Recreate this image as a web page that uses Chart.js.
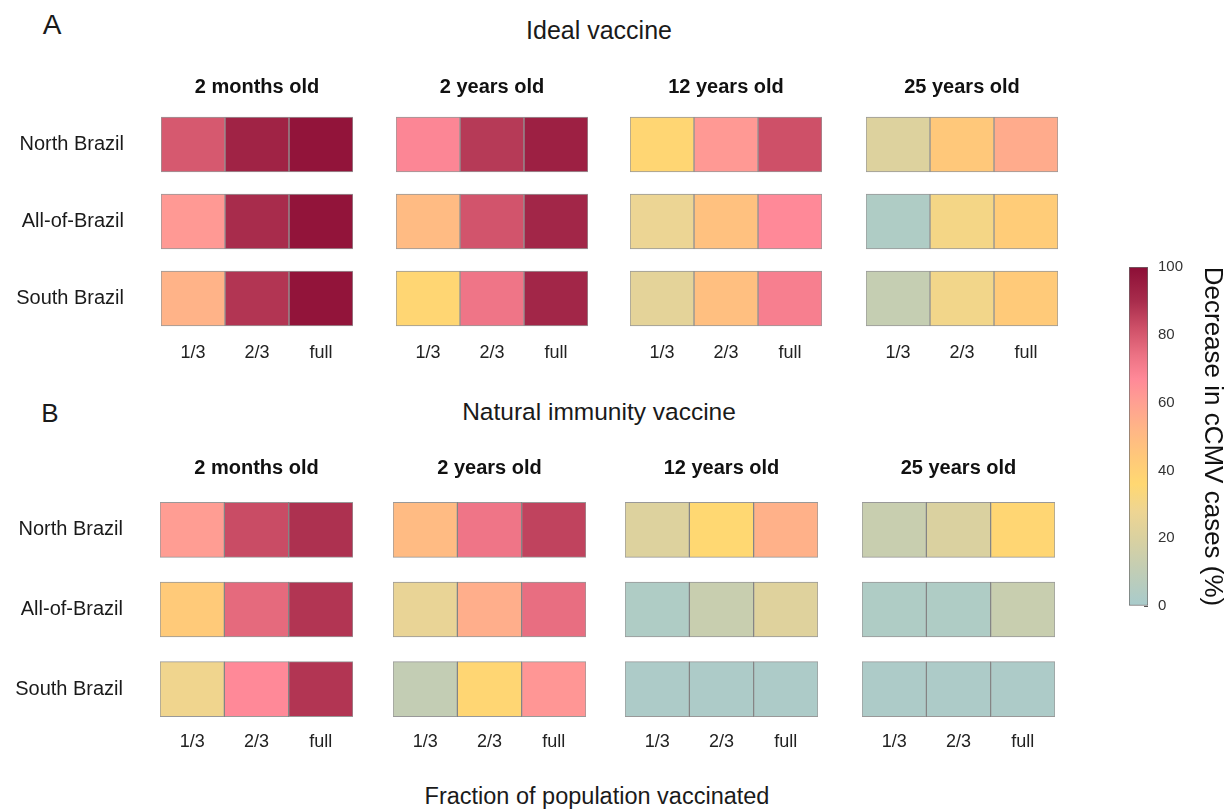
<!DOCTYPE html>
<html>
<head>
<meta charset="utf-8">
<title>cCMV vaccination scenarios</title>
<script src="https://cdn.jsdelivr.net/npm/chart.js@4.4.1/dist/chart.umd.min.js"></script>
<style>
  html, body { margin: 0; padding: 0; background: #ffffff; }
  body {
    position: relative; width: 1226px; height: 810px; overflow: hidden;
    font-family: 'Liberation Sans', Arial, Helvetica, sans-serif; color: #1a1a1a;
  }
  canvas { position: absolute; }
  .lbl { position: absolute; transform: translate(-50%, -50%); white-space: nowrap; line-height: 1; }
</style>
</head>
<body>
<div class="lbl" style="left:52px;top:25px;font-size:28px;">A</div>
<div class="lbl" style="left:599px;top:30px;font-size:25px;">Ideal vaccine</div>
<div class="lbl" style="left:50px;top:413px;font-size:26px;">B</div>
<div class="lbl" style="left:599px;top:412px;font-size:24.5px;">Natural immunity vaccine</div>
<div class="lbl" style="left:597px;top:797px;font-size:23.5px;">Fraction of population vaccinated</div>

<script>
// ---- Data -------------------------------------------------------------
const regions   = ['North Brazil', 'All-of-Brazil', 'South Brazil'];
const fractions = ['1/3', '2/3', 'full'];
const ageGroups = ['2 months old', '2 years old', '12 years old', '25 years old'];

// Decrease in cCMV cases (%), rows = regions, columns = fraction vaccinated
const idealTwoMonths        = [[80, 93, 98], [62, 90, 98], [53, 88, 98]];
const idealTwoYears         = [[68, 87, 94], [50, 81, 92], [37, 73, 92]];
const idealTwelveYears      = [[37, 62, 82], [27, 47, 67], [24, 48, 70]];
const idealTwentyFiveYears  = [[21, 44, 56], [3, 31, 42], [12, 30, 43]];

const naturalTwoMonths       = [[61, 83, 89], [43, 76, 88], [29, 67, 88]];
const naturalTwoYears        = [[50, 73, 85], [26, 55, 75], [11, 37, 63]];
const naturalTwelveYears     = [[21, 36, 54], [3, 13, 22], [2, 2, 2]];
const naturalTwentyFiveYears = [[13, 20, 37], [3, 3, 13], [2, 2, 2]];

const colorbarTicks = [0, 20, 40, 60, 80, 100];

// ---- Colour scale (value -> rgb) -------------------------------------
const colorStops = [
  [0,   [168, 203, 204]],
  [10,  [192, 205, 182]],
  [20,  [218, 209, 160]],
  [28,  [238, 213, 146]],
  [36,  [255, 216, 114]],
  [44,  [255, 200, 122]],
  [52,  [255, 182, 134]],
  [60,  [255, 160, 146]],
  [67,  [255, 137, 152]],
  [74,  [236, 114, 132]],
  [82,  [206,  80, 104]],
  [90,  [168,  44,  76]],
  [100, [140,  14,  54]]
];

function colorFor(v) {
  for (let i = 1; i < colorStops.length; i++) {
    const [v1, c1] = colorStops[i];
    const [v0, c0] = colorStops[i - 1];
    if (v <= v1) {
      const t = (v - v0) / (v1 - v0);
      const c = c0.map((a, k) => Math.round(a + (c1[k] - a) * t));
      return `rgb(${c[0]},${c[1]},${c[2]})`;
    }
  }
  const c = colorStops[colorStops.length - 1][1];
  return `rgb(${c[0]},${c[1]},${c[2]})`;
}

// ---- Layout -----------------------------------------------------------
Chart.defaults.font.family = "'Liberation Sans', Arial, Helvetica, sans-serif";
Chart.defaults.color = '#1a1a1a';

const panels = [
  { tables: [idealTwoMonths, idealTwoYears, idealTwelveYears, idealTwentyFiveYears],
    lefts: [161, 396, 630, 866], cellWidth: 192, top: 75, height: 292,
    titlePad: 7, tickPad: 5 },
  { tables: [naturalTwoMonths, naturalTwoYears, naturalTwelveYears, naturalTwentyFiveYears],
    lefts: [160, 393, 625, 862], cellWidth: 193, top: 456, height: 303,
    titlePad: 10, tickPad: 2 }
];

function makeCanvas(left, top, width, height) {
  const cv = document.createElement('canvas');
  cv.width = width; cv.height = height;
  cv.style.left = left + 'px'; cv.style.top = top + 'px';
  cv.style.width = width + 'px'; cv.style.height = height + 'px';
  document.body.appendChild(cv);
  return cv;
}

// vertical axes: keep the label padding from pushing the plot area inward
function noVerticalPadding(s) { s.paddingTop = 0; s.paddingBottom = 0; }

function heatmap(panel, g) {
  const values = panel.tables[g];
  const showRegions = g === 0;
  const axisWidth = showRegions ? panel.lefts[0] : 0;
  const cv = makeCanvas(panel.lefts[g] - axisWidth, panel.top,
                        panel.cellWidth + axisWidth, panel.height);

  const datasets = fractions.map((f, j) => ({
    label: f,
    data: regions.map(() => 1),
    decrease: values.map(row => row[j]),
    backgroundColor: values.map(row => colorFor(row[j])),
    borderColor: 'rgba(70,70,70,0.55)',
    borderWidth: 1,
    borderSkipped: false,
    barThickness: 55
  }));

  return new Chart(cv, {
    type: 'bar',
    data: { labels: regions, datasets },
    options: {
      indexAxis: 'y',
      responsive: false,
      animation: false,
      devicePixelRatio: 1,
      layout: { padding: 0 },
      plugins: {
        legend: { display: false },
        tooltip: { enabled: false },
        title: {
          display: true, text: ageGroups[g], fullSize: false,
          font: { size: 20, weight: 'bold' }, color: '#111',
          padding: { top: 0, bottom: panel.titlePad }
        }
      },
      scales: {
        x: {
          type: 'linear', min: 0, max: 3, stacked: true,
          afterBuildTicks: s => { s.ticks = fractions.map((_, i) => ({ value: i + 0.5 })); },
          afterFit: s => { s.height = 30; s.paddingLeft = 0; s.paddingRight = 0; },
          grid: { display: false, drawTicks: false },
          border: { display: false },
          ticks: {
            padding: panel.tickPad, font: { size: 18 }, color: '#222',
            autoSkip: false, maxRotation: 0,
            callback: (v, i) => fractions[i]
          }
        },
        y: {
          type: 'category', stacked: true, display: showRegions,
          afterFit: s => { s.width = axisWidth; noVerticalPadding(s); },
          grid: { display: false, drawTicks: false },
          border: { display: false },
          ticks: { padding: 37, font: { size: 20 }, color: '#1a1a1a' }
        }
      }
    }
  });
}

panels.forEach(p => ageGroups.forEach((_, g) => heatmap(p, g)));

// ---- Colour bar -------------------------------------------------------
(function colorbar() {
  const cv = makeCanvas(1129, 257, 99, 359);
  new Chart(cv, {
    type: 'bar',
    data: {
      labels: [''],
      datasets: [{
        data: [[colorbarTicks[0], colorbarTicks[colorbarTicks.length - 1]]],
        backgroundColor: c => {
          const chart = c.chart;
          if (!chart.chartArea) return null;
          const y = chart.scales.y;
          const grad = chart.ctx.createLinearGradient(0, y.getPixelForValue(0), 0, y.getPixelForValue(100));
          colorStops.forEach(([v, rgb]) => grad.addColorStop(v / 100, `rgb(${rgb[0]},${rgb[1]},${rgb[2]})`));
          return grad;
        },
        borderColor: '#6a6a6a',
        borderWidth: 1,
        borderSkipped: false,
        barPercentage: 1,
        categoryPercentage: 1
      }]
    },
    options: {
      responsive: false,
      animation: false,
      devicePixelRatio: 1,
      layout: { padding: { top: 10, bottom: 10, left: 0, right: 0 } },
      plugins: { legend: { display: false }, tooltip: { enabled: false } },
      scales: {
        x: { display: false },
        y: {
          position: 'right', min: 0, max: 100,
          afterBuildTicks: s => { s.ticks = colorbarTicks.map(v => ({ value: v })); },
          afterFit: s => { s.width = 80; noVerticalPadding(s); },
          grid: { drawOnChartArea: false, drawTicks: true, tickLength: -4, color: '#555' },
          border: { display: false },
          ticks: { padding: 14, font: { size: 15 }, color: '#333' },
          title: {
            display: true, text: 'Decrease in cCMV cases (%)',
            font: { size: 26 }, color: '#111', padding: { top: 0, bottom: 0 }
          }
        }
      }
    }
  });
})();
</script>
</body>
</html>
